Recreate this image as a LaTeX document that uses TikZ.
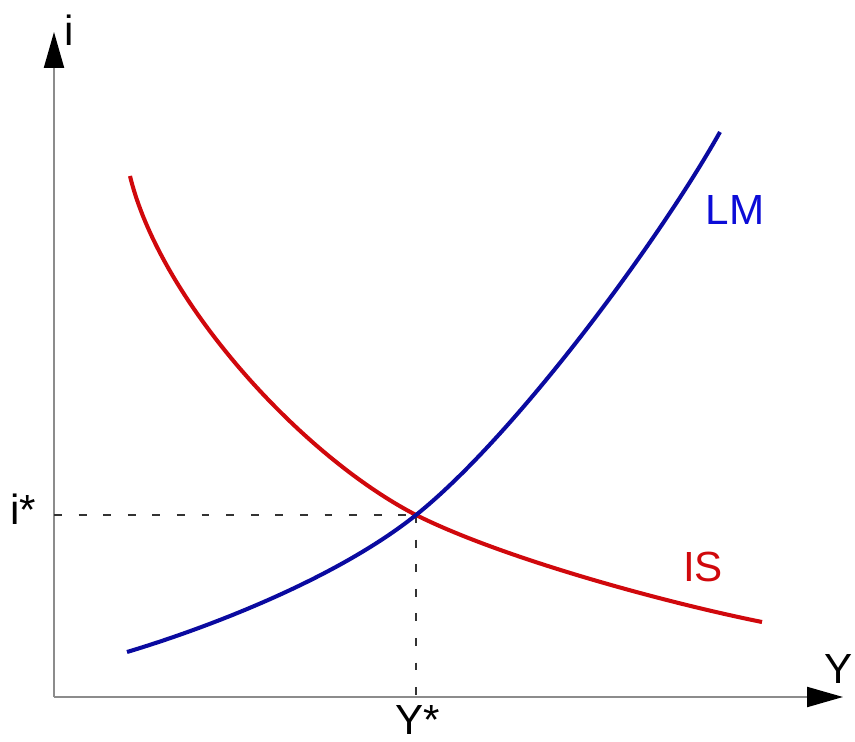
\documentclass[tikz,border=0pt]{standalone}
\usepackage{fontspec}
\setmainfont{Liberation Sans}
\usepackage{tikz}
\usetikzlibrary{positioning}
\usetikzlibrary{arrows.meta,calc}

\definecolor{isred}{RGB}{208,8,12}
\definecolor{lmblue}{RGB}{10,10,160}
\definecolor{lmtext}{RGB}{12,12,215}

\begin{document}
\begin{tikzpicture}[x=0.02cm,y=-0.02cm,
  axis/.style={draw=black!45,line width=1.2pt,-{Triangle[length=0.72cm,width=0.4cm,color=black]}},
  curve/.style={line width=2.3pt},
  guide/.style={draw=black!80,line width=1.2pt,dash pattern=on 4.5pt off 9.5pt},
  lbl/.style={anchor=base,inner sep=0pt,font=\fontsize{24}{28}\selectfont}]
\useasboundingbox (0,0) rectangle (855,742);
\coordinate (O) at (54,697);
\coordinate (itop) at (54,32);
\coordinate (yend) at (843,697);
\coordinate (eq) at (416,515);
\coordinate (ieq) at (54,515);
\coordinate (yeq) at (416,697);
\coordinate (isA) at (130,176);
\coordinate (isB) at (762,622);
\coordinate (lmA) at (127,652);
\coordinate (lmB) at (720,132);
\node[lbl] at (69,46) (ilabel) {i};
\node[lbl] at (839,683) (ylabel) {Y};
\node[lbl] at (23,525) (istar) {i*};
\node[lbl] at (418,734) (ystar) {Y*};
\node[lbl,text=lmtext] at (735,225) (lmlabel) {LM};
\node[lbl,text=isred] at (703,582) (islabel) {IS};
% axes
\draw[axis] (O) -- (itop);
\draw[axis] (O) -- (yend);
% equilibrium
\draw[guide] (ieq) -- (eq);
\draw[guide] (eq) -- (yeq);
% IS and LM
\draw[curve,isred] (isA) .. controls (160,300) and (300,455) .. (eq)
  .. controls (506,560) and (672,604) .. (isB);
\draw[curve,lmblue] (lmA) .. controls (207,628) and (336,579) .. (eq)
  .. controls (516,435) and (660,239) .. (lmB);
\end{tikzpicture}
\end{document}
